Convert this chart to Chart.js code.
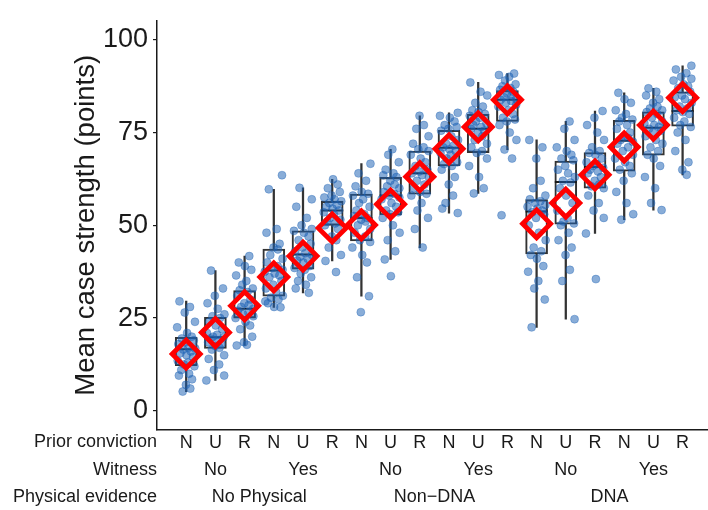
<!DOCTYPE html>
<html>
<head>
<meta charset="utf-8">
<script src="https://cdn.jsdelivr.net/npm/chart.js@4/dist/chart.umd.min.js"></script>
<style>
  html, body { margin: 0; padding: 0; background: #fff; }
  #wrap { width: 708px; height: 510px; position: relative; }
</style>
</head>
<body>
<div id="wrap"><canvas id="chart"></canvas></div>
<script>
// Case strength by prior conviction / witness / physical evidence — box + jitter + mean.

const PRIOR_CONVICTION = ['N', 'U', 'R', 'N', 'U', 'R', 'N', 'U', 'R', 'N', 'U', 'R', 'N', 'U', 'R', 'N', 'U', 'R'];
const WITNESS = ['No', 'Yes', 'No', 'Yes', 'No', 'Yes'];
const EVIDENCE = ['No Physical', 'Non\u2212DNA', 'DNA'];
const Y_TICKS = [0, 25, 50, 75, 100];

const Q1 = [12.2, 16.8, 25.0, 30.9, 38.2, 50.0, 45.8, 52.8, 58.4, 66.0, 69.6, 78.0, 42.3, 50.3, 60.0, 64.6, 68.9, 76.7];
const MEDIAN = [16.6, 19.8, 27.5, 37.8, 42.1, 54.0, 52.0, 58.0, 64.0, 70.9, 76.0, 83.8, 53.7, 61.7, 65.7, 72.8, 76.3, 80.8];
const Q3 = [19.8, 25.2, 32.4, 43.6, 48.5, 56.5, 58.4, 62.9, 70.0, 75.6, 79.9, 86.3, 56.9, 67.3, 69.6, 78.3, 80.6, 86.0];
const WHISK_LO = [5.2, 8.2, 17.6, 27.9, 31.8, 40.4, 30.9, 40.8, 44.0, 53.3, 58.6, 70.4, 22.5, 24.7, 47.8, 51.5, 54.1, 63.6];
const WHISK_HI = [29.6, 37.8, 41.7, 59.7, 60.1, 62.4, 66.6, 70.5, 79.5, 80.3, 88.5, 90.9, 73.0, 78.0, 80.8, 85.7, 86.9, 93.0];
const MEANS = [15.3, 21.1, 28.3, 36.1, 41.7, 49.3, 50.1, 55.7, 63.1, 70.6, 76.5, 83.8, 50.4, 56.0, 63.6, 71.1, 77.0, 84.4];

// individual participants per condition
const POINTS = [
  [29.5, 28, 26.5, 24, 22.5, 21, 20, 19.5, 19, 18.5, 18, 17, 16.8, 16.5, 16, 15.5, 15, 14.5, 13.5, 13, 12.5, 12, 11, 10, 9.5, 8.5, 7, 6, 5.2],
  [37.8, 33, 31, 29, 27.5, 26, 25.5, 25, 24, 23, 22, 21, 20.5, 20, 19.8, 19.5, 19, 18.5, 18, 17.5, 17, 16.5, 15, 14, 12.5, 11, 9.5, 8.2],
  [41.7, 40, 39, 38, 36.5, 35, 34, 33, 32.5, 32, 31, 30, 29, 28.5, 28, 27.5, 27, 26.5, 26, 25.5, 25, 24, 23, 22, 20, 18.5, 17.6, 17.8],
  [63.5, 59.7, 49, 48, 45, 44, 43.5, 42, 41, 40, 39, 38.5, 38, 37.5, 37, 36.5, 36, 35, 34, 33, 32, 31, 30.5, 30, 29, 28, 27.9, 29.5],
  [60.1, 57, 55, 52, 50, 49, 48.5, 48, 47, 46, 45, 44, 43, 42.5, 42, 41.5, 41, 40.5, 40, 39, 38.5, 38, 37, 36, 35, 34, 33, 31.8],
  [62.4, 61, 60, 59, 58, 57.5, 57, 56.5, 56, 55.5, 55, 54.5, 54, 53.5, 53, 52, 51.5, 51, 50.5, 50, 49, 47, 46, 44, 42, 40.4, 37.4],
  [66.6, 64, 62, 60.5, 59, 58.5, 58, 57, 56, 55, 54, 53, 52.5, 52, 51.5, 51, 50, 49, 48, 47, 46, 45.5, 44, 42, 40, 36, 30.9, 26.6],
  [70.5, 69, 67, 65, 64, 63.5, 63, 62, 61, 60.5, 60, 59, 58.5, 58, 57.5, 57, 56, 55, 54, 53.5, 53, 52, 50, 48, 46, 43, 40.8, 36.3],
  [79.5, 77, 76, 74, 72, 71, 70.5, 70, 69, 68, 67, 66, 65, 64.5, 64, 63.5, 63, 62, 61, 60, 59, 58.5, 58, 56, 54, 52, 49, 44],
  [80.3, 79.5, 79, 78, 77, 76.5, 76, 75.5, 74, 73, 72, 71.5, 71, 70.5, 70, 69.5, 69, 68, 67, 66.5, 66, 65, 63, 61, 58, 56, 53.3, 54.5],
  [88.5, 86, 85, 83, 82, 81, 80.5, 80, 79.5, 79, 78, 77.5, 77, 76.5, 76, 75.5, 75, 74, 73, 72, 71, 70, 69.5, 68, 66, 63, 60, 58.6],
  [90.9, 90.5, 90, 89, 88, 87.5, 87, 86.5, 86, 85.5, 85, 84.5, 84, 83.8, 83.5, 83, 82.5, 82, 81, 80, 79, 78.5, 78, 77, 75, 73, 70.4, 68, 52.7],
  [73, 71, 68, 62, 60, 58, 57, 56.5, 56, 55.5, 55, 54.5, 54, 53.5, 53, 52, 50, 48, 46, 44, 43, 42, 41, 39, 37.5, 35, 33, 30, 22.5],
  [78, 76, 73, 71, 70, 69, 68, 67.5, 66, 65, 64, 63, 62, 61.5, 60, 58, 56, 54, 52, 51, 50.5, 50, 48, 46, 44, 42, 38, 35, 24.7],
  [80.8, 79, 77, 75, 73, 71, 70, 69.5, 69, 68, 67, 66.5, 66, 65.5, 65, 64.5, 64, 63, 62, 61, 60.5, 60, 58, 56, 54, 52, 47.8, 35.5],
  [85.7, 84, 83, 81, 80, 79, 78.5, 78, 77, 76, 75, 74, 73.5, 73, 72.5, 72, 71, 70, 69, 68, 67, 66, 65, 64, 62, 59, 56, 53, 51.5],
  [86.9, 86, 85, 84, 83, 82, 81.5, 81, 80.5, 80, 79, 78, 77.5, 77, 76.5, 76, 75.5, 75, 74, 73, 72, 71, 70, 69, 68, 66, 63, 60, 56, 54.1],
  [93, 92, 91, 90, 89.5, 89, 88, 87.5, 87, 86, 85, 84.5, 84, 83, 82, 81.5, 81, 80.5, 80, 79, 78, 77, 76.5, 75, 73, 70, 67, 65, 63.6],
];

// horizontal jitter (category units), reused round-robin
const JITTER = [-0.23, 0.13, -0.05, 0.3, -0.31, 0.03, 0.19, -0.15, 0.26, -0.02, -0.27, 0.08, 0.31, -0.1, 0.16,
  -0.2, 0.01, 0.23, -0.29, 0.06, -0.08, 0.28, -0.17, 0.1, -0.25, 0.2, -0.01, 0.14, -0.12, 0.3];

const FONT = "'Liberation Sans', Arial, Helvetica, sans-serif";
const INK = '#1a1a1a';
const BOX = '#333333';

const xs = PRIOR_CONVICTION.map((_, i) => i + 1);
const dots = POINTS.flatMap((vals, g) => vals.map((v, k) => ({ x: g + 1 + JITTER[(k + g * 7) % JITTER.length], y: v })));

// ── Row labels under the axis (witness / physical evidence) ─────────────────
const groupLabels = {
  id: 'groupLabels',
  afterDraw(chart) {
    const { ctx, chartArea, scales: { x } } = chart;
    const rows = [
      { y: 442, title: 'Prior conviction', items: [] },
      { y: 470, title: 'Witness', items: WITNESS.map((t, i) => [t, i * 3 + 2]) },
      { y: 497, title: 'Physical evidence', items: EVIDENCE.map((t, i) => [t, i * 6 + 3.5]) },
    ];
    ctx.save();
    ctx.font = `18px ${FONT}`;
    ctx.fillStyle = INK;
    ctx.textBaseline = 'middle';
    for (const r of rows) {
      ctx.textAlign = 'right';
      ctx.fillText(r.title, chartArea.left, r.y);
      ctx.textAlign = 'center';
      for (const [t, pos] of r.items) ctx.fillText(t, x.getPixelForValue(pos), r.y);
    }
    ctx.restore();
  },
};

new Chart(document.getElementById('chart'), {
  type: 'scatter',
  data: {
    datasets: [
      { type: 'scatter', label: 'Mean', order: 0, data: xs.map((x, i) => ({ x, y: MEANS[i] })),
        pointStyle: 'rectRot', pointRadius: 14, borderColor: '#ff0000', borderWidth: 4.8, backgroundColor: 'rgba(0,0,0,0)' },
      { type: 'scatter', label: 'Participants', order: 1, data: dots,
        pointRadius: 4, backgroundColor: 'rgba(28,98,180,0.52)', borderColor: 'rgba(28,98,180,0.35)', borderWidth: 1 },
      { type: 'scatter', label: 'Median', order: 2, data: xs.map((x, i) => ({ x, y: MEDIAN[i] })),
        pointStyle: 'line', pointRadius: 11, borderColor: INK, borderWidth: 2 },
      { type: 'bar', label: 'Box', order: 3, grouped: false, data: xs.map((x, i) => ({ x, y: [Q1[i], Q3[i]] })),
        barThickness: 22, backgroundColor: 'rgba(0,0,0,0)', borderColor: BOX, borderWidth: 1.4, borderSkipped: false },
      { type: 'bar', label: 'Whisker low', order: 4, grouped: false, data: xs.map((x, i) => ({ x, y: [WHISK_LO[i], Q1[i]] })),
        barThickness: 1.6, backgroundColor: BOX, borderWidth: 0 },
      { type: 'bar', label: 'Whisker high', order: 4, grouped: false, data: xs.map((x, i) => ({ x, y: [Q3[i], WHISK_HI[i]] })),
        barThickness: 1.6, backgroundColor: BOX, borderWidth: 0 },
    ],
  },
  options: {
    responsive: true,
    maintainAspectRatio: false,
    animation: false,
    events: [],
    layout: { autoPadding: false, padding: { left: 60, top: 2.6, right: 0, bottom: 0 } },
    plugins: { legend: { display: false }, tooltip: { enabled: false } },
    scales: {
      x: {
        type: 'linear', min: 0, max: 18.87, offset: false,
        grid: { display: false, drawTicks: false },
        border: { display: true, color: INK, width: 1.5 },
        afterBuildTicks: (s) => { s.ticks = xs.map((v) => ({ value: v })); },
        afterFit: (s) => { s.height = 80.6; },
        ticks: {
          autoSkip: false, maxRotation: 0, padding: 3, color: INK,
          font: { family: FONT, size: 18 },
          callback: (v) => PRIOR_CONVICTION[v - 1] ?? '',
        },
      },
      y: {
        min: -5, max: 105,
        grid: { display: true, drawOnChartArea: false, drawTicks: true, tickLength: 4, color: INK, lineWidth: 1.2 },
        border: { display: true, color: INK, width: 1.5 },
        afterBuildTicks: (s) => { s.ticks = Y_TICKS.map((v) => ({ value: v })); },
        afterFit: (s) => { s.width = 97; },
        ticks: { padding: 5, color: INK, font: { family: FONT, size: 27 } },
        title: {
          display: true, text: 'Mean case strength (points)', color: INK,
          font: { family: FONT, size: 27.5 }, padding: { top: 10, bottom: 0 },
        },
      },
    },
  },
  plugins: [groupLabels],
});
</script>
</body>
</html>
